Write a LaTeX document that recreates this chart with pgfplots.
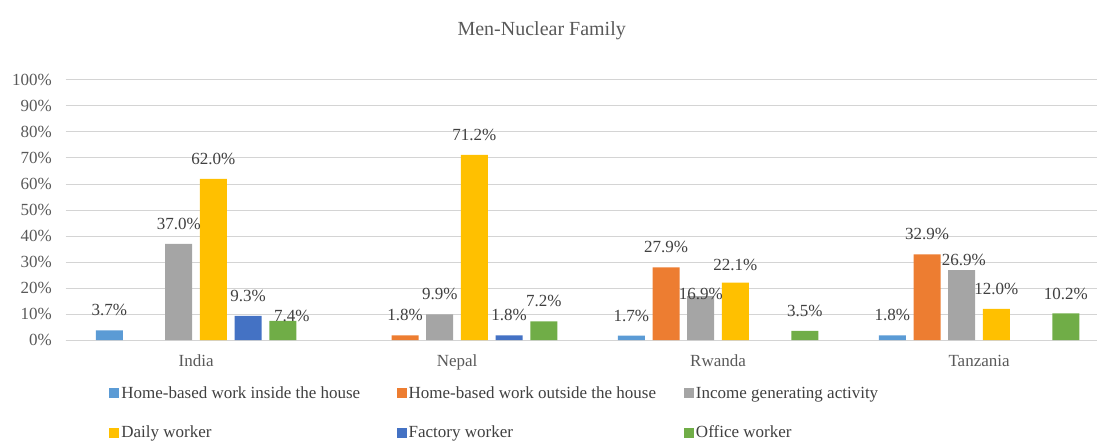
\documentclass[border=0pt]{standalone}
\usepackage{pgfplots}
\pgfplotsset{compat=1.18}
\usepackage{pgfplotstable}
\usepackage{fontspec}
\setmainfont{Liberation Serif}
\definecolor{c1}{HTML}{5B9BD5}
\definecolor{c2}{HTML}{ED7D31}
\definecolor{c3}{HTML}{A5A5A5}
\definecolor{c4}{HTML}{FFC000}
\definecolor{c5}{HTML}{4472C4}
\definecolor{c6}{HTML}{70AD47}
\definecolor{gridc}{HTML}{D4D4D4}
\definecolor{textc}{HTML}{404040}
\definecolor{tickc}{HTML}{595959}
\pgfplotstableread{
x y dx dy
0 3.7 0 20
2 1.7 0 20
3 1.8 0 20
}\inside
\pgfplotstableread{
x y dx dy
1 1.8 0 20
2 27.9 0 20
3 32.9 0 20
}\outside
\pgfplotstableread{
x y dx dy
0 37.0 0 20
1 9.9 0 20
2 16.9 0 2
3 26.9 2 10
}\income
\pgfplotstableread{
x y dx dy
0 62.0 0 20
1 71.2 0 20
2 22.1 0 18
3 12.0 0 20
}\daily
\pgfplotstableread{
x y dx dy
0 9.3 0 20
1 1.8 0 20
}\factory
\pgfplotstableread{
x y dx dy
0 7.4 9 5
1 7.2 0 20
2 3.5 0 20
3 10.2 0 20
}\office
\newcommand{\lf}{\fontsize{17}{20}\selectfont}
\begin{document}
\begin{tikzpicture}
\begin{axis}[
  at={(65.6pt,102pt)}, anchor=south west,
  scale only axis, width=1031.4pt, height=260pt,
  xmin=-0.5, xmax=3.452, ymin=0, ymax=100,
  ybar, bar width=27pt,
  axis x line=bottom, axis y line=left,
  x axis line style={draw=gridc, line width=1pt, -},
  y axis line style={draw=none},
  ymajorgrids, grid style={draw=gridc, line width=1pt},
  major tick length=0pt,
  xtick={0,1,2,3}, xticklabels={India,Nepal,Rwanda,Tanzania},
  ytick={0,10,...,100},
  yticklabel={\pgfmathprintnumber{\tick}\%},
  /pgf/number format/assume math mode=true,
  tick label style={font=\lf, text=tickc},
  yticklabel style={inner sep=0pt, xshift=-13.6pt, anchor=east},
  xticklabel style={inner sep=0pt, yshift=-15pt, anchor=north},
  title={Men-Nuclear Family},
  title style={at={(axis description cs:0.4616,1.2)}, anchor=center, yshift=-9pt, font=\fontsize{20}{24}\selectfont, text=tickc},
  nodes near coords={\pgfmathprintnumber[fixed,fixed zerofill,precision=1]{\pgfplotspointmeta}\%},
  nodes near coords align=center,
  visualization depends on={\thisrow{dx}\as\dx},
  visualization depends on={\thisrow{dy}\as\dy},
  every node near coord/.append style={anchor=center, xshift=\dx, yshift=\dy, font=\lf, text=textc},
  legend columns=3,
  legend style={draw=none, fill=none, inner sep=0pt,
    at={(axis description cs:0.04227,-0.2808)}, anchor=west,
    row sep=21.7pt, column sep=0pt,
    cells={anchor=west, inner sep=1.5pt},
    font=\lf, text=textc},
  legend image code/.code={\fill[#1] (0pt,-5pt) rectangle (10pt,5pt);},
]
\addplot[fill=c1, draw=none, bar shift=-86.75pt] table[x=x,y=y] {\inside};
\addlegendentry{\makebox[273.3pt][l]{Home-based work inside the house}}
\addplot[fill=c2, draw=none, bar shift=-52.05pt] table[x=x,y=y] {\outside};
\addlegendentry{\makebox[273.3pt][l]{Home-based work outside the house}}
\addplot[fill=c3, draw=none, bar shift=-17.35pt] table[x=x,y=y] {\income};
\addlegendentry{\makebox[273.3pt][l]{Income generating activity}}
\addplot[fill=c4, draw=none, bar shift=17.35pt] table[x=x,y=y] {\daily};
\addlegendentry{\makebox[273.3pt][l]{Daily worker}}
\addplot[fill=c5, draw=none, bar shift=52.05pt] table[x=x,y=y] {\factory};
\addlegendentry{\makebox[273.3pt][l]{Factory worker}}
\addplot[fill=c6, draw=none, bar shift=86.75pt] table[x=x,y=y] {\office};
\addlegendentry{\makebox[273.3pt][l]{Office worker}}
\end{axis}
\pgfresetboundingbox
\path[use as bounding box] (0pt,0pt) rectangle (1097pt,442pt);
\end{tikzpicture}
\end{document}
